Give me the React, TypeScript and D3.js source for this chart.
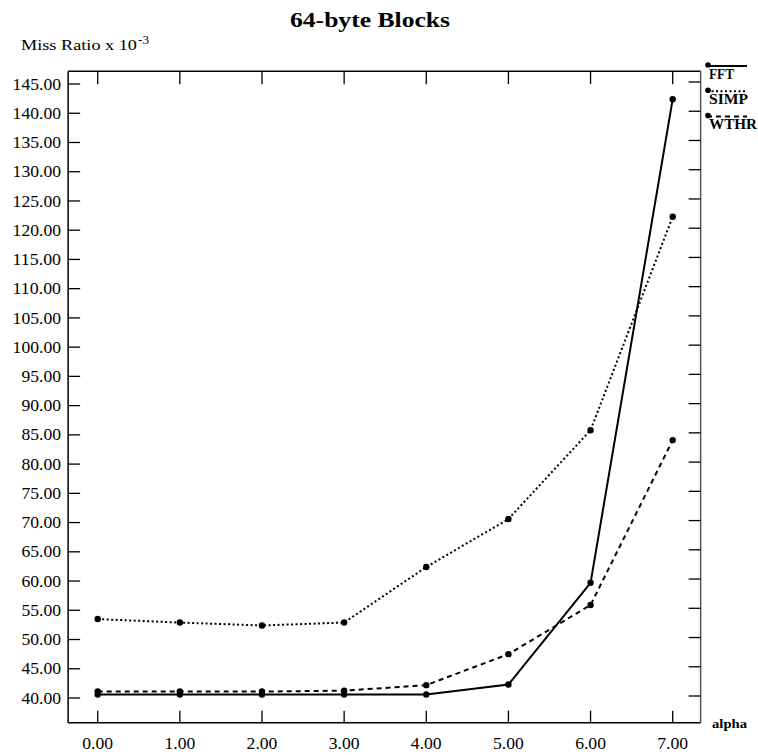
import React from "react";
import * as d3 from "d3";

const xValues = [0, 1, 2, 3, 4, 5, 6, 7];
const xTickLabels = ["0.00", "1.00", "2.00", "3.00", "4.00", "5.00", "6.00", "7.00"];
const yTicks = [40, 45, 50, 55, 60, 65, 70, 75, 80, 85, 90, 95, 100, 105, 110, 115, 120, 125, 130, 135, 140, 145];

const fft = [40.6, 40.6, 40.6, 40.6, 40.6, 42.3, 59.7, 142.4];
const simp = [53.5, 52.9, 52.4, 52.9, 62.4, 70.6, 85.8, 122.3];
const wthr = [41.1, 41.1, 41.1, 41.25, 42.2, 47.5, 55.9, 84.1];

const seriesNames = ["FFT", "SIMP", "WTHR"];
const seriesData = [fft, simp, wthr];
const seriesDash = ["none", "2,2.5", "5,4"];
const legendWidths = [25, 39, 48];

const W = 758;
const H = 755;
const FONT = "'Liberation Serif', 'Times New Roman', serif";

// width of a numeric label in Liberation Serif (digits 0.5em, period 0.25em), stretched a bit
const numWidth = (s: string, fs: number) =>
  s.split("").reduce((a, c) => a + (c === "." ? 0.25 : 0.5), 0) * fs * 1.1;

export default function App() {
  const x = d3.scaleLinear().domain([0, 7]).range([97.7, 672.7]);
  const y = d3.scaleLinear().domain([40, 145]).range([698, 84]);
  const xMin = -0.36, xMax = 7.34;
  const yMin = 35.78, yMax = 147.2;
  const L = x(xMin), R = x(xMax), T = y(yMax), B = y(yMin);

  const line = d3
    .line<number>()
    .x((_, i) => x(xValues[i]))
    .y((d) => y(d));

  return (
    <div style={{ position: "fixed", left: 0, top: 0 }}>
      <svg width={W} height={H} style={{ display: "block", background: "#fff" }} fontFamily={FONT}>
        <rect width={W} height={H} fill="#fff" />
        <text x={290} y={27} fontSize={20} fontWeight="bold" textLength={160} lengthAdjust="spacingAndGlyphs">
          64-byte Blocks
        </text>
        <text x={21} y={50} fontSize={14} textLength={116} lengthAdjust="spacingAndGlyphs">
          Miss Ratio x 10
        </text>
        <text x={138} y={44} fontSize={12} textLength={11} lengthAdjust="spacingAndGlyphs">
          -3
        </text>

        {/* frame */}
        <line x1={L} y1={T} x2={R} y2={T} stroke="#000" strokeWidth={1.5} />
        <line x1={L} y1={B} x2={R} y2={B} stroke="#000" strokeWidth={1.5} />
        <line x1={L} y1={T} x2={L} y2={B} stroke="#000" strokeWidth={1.5} />
        <line x1={R} y1={T} x2={R} y2={B} stroke="#555" strokeWidth={1.5} />

        {/* y ticks */}
        {yTicks.map((t) => {
          const s = t.toFixed(2);
          const w = numWidth(s, 16);
          return (
            <g key={"y" + t}>
              <line x1={L} x2={L + 12} y1={y(t)} y2={y(t)} stroke="#000" strokeWidth={1.3} />
              <line x1={R} x2={R - 12} y1={y(t) - 2} y2={y(t) - 2} stroke="#000" strokeWidth={1.3} />
              <text x={61 - w} y={y(t)} dy="0.35em" fontSize={16} textLength={w} lengthAdjust="spacingAndGlyphs">
                {s}
              </text>
            </g>
          );
        })}

        {/* x ticks */}
        {xValues.map((v, i) => {
          const s = xTickLabels[i];
          const w = numWidth(s, 16);
          return (
            <g key={"x" + v}>
              <line x1={x(v)} x2={x(v)} y1={B} y2={B - 12} stroke="#000" strokeWidth={1.3} />
              <line x1={x(v)} x2={x(v)} y1={T} y2={T + 13} stroke="#000" strokeWidth={1.3} />
              <text x={x(v) - w / 2} y={749} fontSize={16} textLength={w} lengthAdjust="spacingAndGlyphs">
                {s}
              </text>
            </g>
          );
        })}

        <text x={712} y={728} fontSize={13} fontWeight="bold" textLength={35} lengthAdjust="spacingAndGlyphs">
          alpha
        </text>

        {/* series */}
        {seriesData.map((s, si) => (
          <g key={seriesNames[si]}>
            <path
              d={line(s) || ""}
              fill="none"
              stroke="#000"
              strokeWidth={2}
              strokeDasharray={seriesDash[si]}
            />
            {s.map((v, i) => (
              <circle key={i} cx={x(xValues[i])} cy={y(v)} r={3.2} fill="#000" />
            ))}
          </g>
        ))}

        {/* legend */}
        {seriesNames.map((n, i) => {
          const ly = 66 + i * 25.3;
          return (
            <g key={"lg" + n}>
              <line x1={707} x2={747} y1={ly} y2={ly} stroke="#000" strokeWidth={2} strokeDasharray={seriesDash[i]} />
              <circle cx={708} cy={ly - 1} r={2.8} fill="#000" />
              <text x={709} y={ly + 12.5} fontSize={14} fontWeight="bold" textLength={legendWidths[i]} lengthAdjust="spacingAndGlyphs">
                {n}
              </text>
            </g>
          );
        })}
      </svg>
    </div>
  );
}
